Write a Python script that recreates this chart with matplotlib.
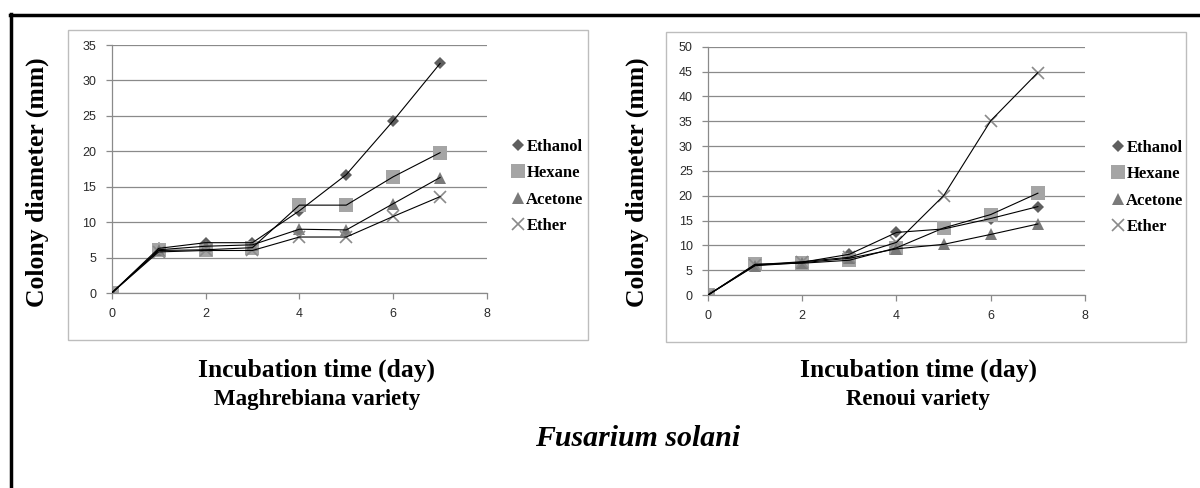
import numpy as np
import matplotlib
matplotlib.use('Agg')
import matplotlib.pyplot as plt
from matplotlib.lines import Line2D
from matplotlib.patches import Rectangle

# Data
days = [0, 1, 2, 3, 4, 5, 6, 7]
series_names = ['Ethanol', 'Hexane', 'Acetone', 'Ether']

magh_ethanol = [0, 6.3, 7.1, 7.1, 11.6, 16.7, 24.3, 32.4]
magh_hexane = [0, 6.0, 6.1, 6.4, 12.4, 12.4, 16.4, 19.8]
magh_acetone = [0, 6.1, 6.6, 6.8, 9.0, 8.9, 12.6, 16.3]
magh_ether = [0, 5.8, 6.0, 6.0, 7.9, 7.9, 10.8, 13.6]

ren_ethanol = [0, 6.0, 6.6, 8.2, 12.6, 13.3, 15.4, 17.8]
ren_hexane = [0, 6.2, 6.4, 7.0, 9.5, 13.5, 16.2, 20.5]
ren_acetone = [0, 5.9, 6.5, 7.4, 9.3, 10.2, 12.2, 14.3]
ren_ether = [0, 6.1, 6.7, 7.6, 10.6, 20.0, 35.1, 44.8]

x_ticks = [0, 2, 4, 6, 8]

markers = ['D', 's', '^', 'x']
mcolors = ['#5f5f5f', '#a5a5a5', '#7a7a7a', '#8a8a8a']
msizes = [6.5, 9.5, 8.5, 9]

W, H = 1200, 488
fig = plt.figure(figsize=(W / 100, H / 100), dpi=100)
fig.patch.set_facecolor('white')

def fx(px):
    return px / W

def fy(py):
    return 1 - py / H

# outer border (top and left black lines)
fig.add_artist(Line2D([fx(11), fx(11)], [fy(14), fy(488)], color='black', lw=2.5))
fig.add_artist(Line2D([fx(10), fx(1200)], [fy(15), fy(15)], color='black', lw=2.5))

# chart frames
fig.add_artist(Rectangle((fx(68), fy(340)), fx(588 - 68), (340 - 30) / H,
                         fill=False, edgecolor='#bdbdbd', lw=1.0))
fig.add_artist(Rectangle((fx(666), fy(342)), fx(1186 - 666), (342 - 32) / H,
                         fill=False, edgecolor='#bdbdbd', lw=1.0))

ax1 = fig.add_axes([fx(111.7), fy(293), fx(487 - 111.7), (293 - 45) / H])
ax2 = fig.add_axes([fx(708), fy(295), fx(1085 - 708), (295 - 46.7) / H])

panels = [
    (ax1, [magh_ethanol, magh_hexane, magh_acetone, magh_ether], 35, 37, 'Maghrebiana variety', 317, 519, 139),
    (ax2, [ren_ethanol, ren_hexane, ren_acetone, ren_ether], 50, 637, 'Renoui variety', 918, 1119, 140),
]

for ax, data, ymax, ylab_x, variety, cx, leg_x, leg_y in panels:
    for vals, m, c, s, name in zip(data, markers, mcolors, msizes, series_names):
        ax.plot(days, vals, color='black', lw=0.8, zorder=3)
        ax.plot(days, vals, linestyle='none', marker=m, color=c, markersize=s,
                markeredgewidth=1.2 if m == 'x' else 0, zorder=2)
    ax.set_xlim(0, 8)
    ax.set_ylim(0, ymax)
    ax.set_xticks(x_ticks)
    ax.set_yticks(np.arange(0, ymax + 1, 5))
    ax.grid(axis='y', color='#8a8a8a', lw=0.9)
    ax.set_axisbelow(True)
    for sp in ['top', 'right']:
        ax.spines[sp].set_visible(False)
    for sp in ['left', 'bottom']:
        ax.spines[sp].set_color('#8a8a8a')
        ax.spines[sp].set_linewidth(0.9)
    ax.tick_params(direction='out', length=4, width=0.9, color='#8a8a8a',
                   labelsize=9, labelcolor='#2a2a2a', pad=7)
    for lab in ax.get_xticklabels() + ax.get_yticklabels():
        lab.set_family('Liberation Sans')

    fig.text(fx(ylab_x), fy(182), 'Colony diameter (mm)', rotation=90,
             ha='center', va='center', family='Liberation Serif',
             fontweight='bold', fontsize=18.5)
    fig.text(fx(cx), fy(370), 'Incubation time (day)', ha='center', va='center',
             family='Liberation Serif', fontweight='bold', fontsize=18.4)
    fig.text(fx(cx), fy(399), variety, ha='center', va='center',
             family='Liberation Serif', fontweight='bold', fontsize=16.5)

    handles = [Line2D([], [], linestyle='none', marker=m, color=c, markersize=s,
                      markeredgewidth=1.2 if m == 'x' else 0)
               for m, c, s in zip(markers, mcolors, msizes)]
    leg = fig.legend(handles, series_names, loc='upper left',
                     bbox_to_anchor=(fx(leg_x - 6), fy(leg_y)), frameon=False,
                     handlelength=0.6, handletextpad=0.2, labelspacing=0.62,
                     borderaxespad=0, borderpad=0,
                     prop={'family': 'Liberation Serif', 'weight': 'bold', 'size': 12})

fig.text(fx(638), fy(438), 'Fusarium solani', ha='center', va='center',
         family='Liberation Serif', fontstyle='italic', fontweight='bold', fontsize=21.5)

fig.savefig('out.png', dpi=100, facecolor='white')
